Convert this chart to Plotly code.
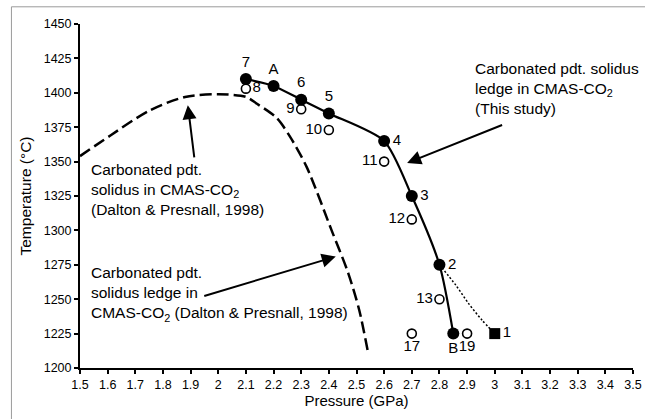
import plotly.graph_objects as go

# ---------------- data ----------------
# Filled circles: carbonated pdt. solidus ledge (this study)
solid_labels = ["7", "A", "6", "5", "4", "3", "2", "B"]
solid_p = [2.1, 2.2, 2.3, 2.4, 2.6, 2.7, 2.8, 2.85]
solid_t = [1410, 1405, 1395, 1385, 1365, 1325, 1275, 1225]

# Open circles
open_labels = ["8", "9", "10", "11", "12", "13", "17", "19"]
open_p = [2.1, 2.3, 2.4, 2.6, 2.7, 2.8, 2.7, 2.9]
open_t = [1403, 1388, 1373, 1350, 1308, 1250, 1225, 1225]

# Filled square
square_labels = ["1"]
square_p = [3.0]
square_t = [1225]

# Dotted extension from 2 to 1
dotted_p = [2.8, 2.86, 2.905, 2.953, 3.0]
dotted_t = [1275, 1260, 1247, 1235, 1225]

# Dashed: carbonated pdt. solidus in CMAS-CO2 (Dalton & Presnall, 1998)
dalton_p = [1.5, 1.61, 1.75, 1.88, 2.0, 2.1, 2.14, 2.21, 2.26, 2.32, 2.41, 2.47, 2.51, 2.54]
dalton_t = [1354, 1369, 1387, 1397, 1399, 1397, 1392, 1382, 1368, 1346, 1300, 1269, 1242, 1213]

x_tickvals = [1.5, 1.6, 1.7, 1.8, 1.9, 2.0, 2.1, 2.2, 2.3, 2.4, 2.5, 2.6, 2.7,
              2.8, 2.9, 3.0, 3.1, 3.2, 3.3, 3.4, 3.5]
x_ticktext = ["1.5", "1.6", "1.7", "1.8", "1.9", "2", "2.1", "2.2", "2.3", "2.4", "2.5",
              "2.6", "2.7", "2.8", "2.9", "3", "3.1", "3.2", "3.3", "3.4", "3.5"]
y_tickvals = [1200, 1225, 1250, 1275, 1300, 1325, 1350, 1375, 1400, 1425, 1450]

FONT = "Arial, 'Liberation Sans', sans-serif"

fig = go.Figure()

fig.add_trace(go.Scatter(
    x=dalton_p, y=dalton_t, mode="lines",
    line=dict(color="black", width=2.5, dash="12px,5px", shape="spline", smoothing=0.8),
    hoverinfo="skip"))

fig.add_trace(go.Scatter(
    x=solid_p, y=solid_t, mode="lines",
    line=dict(color="black", width=2.2, shape="spline", smoothing=0.7),
    hoverinfo="skip"))

fig.add_trace(go.Scatter(
    x=dotted_p, y=dotted_t, mode="lines",
    line=dict(color="black", width=1.5, dash="2px,2px", shape="spline", smoothing=0.8),
    hoverinfo="skip"))

fig.add_trace(go.Scatter(
    x=open_p, y=open_t, mode="markers+text", text=open_labels,
    textposition=["middle right", "middle left", "middle left", "middle left",
                  "middle left", "middle left", "bottom center", "bottom center"],
    textfont=dict(family=FONT, size=15, color="black"),
    marker=dict(symbol="circle", size=9, color="white", line=dict(color="black", width=1.6))))

fig.add_trace(go.Scatter(
    x=solid_p, y=solid_t, mode="markers+text", text=solid_labels,
    textposition=["top center", "top center", "top center", "top center",
                  "middle right", "middle right", "middle right", "bottom center"],
    textfont=dict(family=FONT, size=15, color="black"),
    marker=dict(symbol="circle", size=12, color="black")))

fig.add_trace(go.Scatter(
    x=square_p, y=square_t, mode="markers+text", text=square_labels,
    textposition="middle right",
    textfont=dict(family=FONT, size=15, color="black"),
    marker=dict(symbol="square", size=11, color="black")))

annotations = [
    dict(x=1.532, y=1330, xref="x", yref="y", xanchor="left", yanchor="middle",
         align="left", showarrow=False,
         text="Carbonated pdt.<br>solidus in CMAS-CO<sub>2</sub><br>(Dalton &amp; Presnall, 1998)"),
    dict(x=1.532, y=1254, xref="x", yref="y", xanchor="left", yanchor="middle",
         align="left", showarrow=False,
         text="Carbonated pdt.<br>solidus ledge in<br>CMAS-CO<sub>2</sub> (Dalton &amp; Presnall, 1998)"),
    dict(x=2.92, y=1403, xref="x", yref="y", xanchor="left", yanchor="middle",
         align="left", showarrow=False,
         text="Carbonated pdt. solidus<br>ledge in CMAS-CO<sub>2</sub><br>(This study)"),
    # arrows
    dict(x=1.89, y=1391, ax=1.914, ay=1352, xref="x", yref="y", axref="x", ayref="y",
         text="", showarrow=True, arrowhead=2, arrowsize=1.4, arrowwidth=2, arrowcolor="black"),
    dict(x=2.425, y=1281, ax=1.944, ay=1252, xref="x", yref="y", axref="x", ayref="y",
         text="", showarrow=True, arrowhead=2, arrowsize=1.4, arrowwidth=2, arrowcolor="black"),
    dict(x=2.683, y=1349, ax=3.032, ay=1377, xref="x", yref="y", axref="x", ayref="y",
         text="", showarrow=True, arrowhead=2, arrowsize=1.4, arrowwidth=2, arrowcolor="black"),
]
for a in annotations:
    a["font"] = dict(family=FONT, size=15.5, color="black")

fig.update_layout(
    width=645, height=419,
    margin=dict(l=80, r=12, t=24, b=51, autoexpand=False),
    paper_bgcolor="white", plot_bgcolor="white",
    showlegend=False,
    font=dict(family=FONT, color="black"),
    annotations=annotations,
    shapes=[dict(type="rect", xref="paper", yref="paper",
                 x0=-0.124, y0=-0.2, x1=1.2, y1=1.05,
                 line=dict(color="#9a9a9a", width=1), fillcolor="rgba(0,0,0,0)", layer="above")],
)

fig.update_xaxes(
    range=[1.5, 3.5], tickvals=x_tickvals, ticktext=x_ticktext,
    showgrid=False, zeroline=False, automargin=False,
    showline=True, linecolor="black", linewidth=2,
    ticks="outside", ticklen=4, tickwidth=1.5, tickcolor="black",
    tickfont=dict(family=FONT, size=12.5, color="black"),
    title=dict(text="Pressure (GPa)", font=dict(family=FONT, size=15, color="black"), standoff=3),
)
fig.update_yaxes(
    range=[1200, 1450], tickvals=y_tickvals,
    showgrid=False, zeroline=False, automargin=False,
    showline=True, linecolor="black", linewidth=2,
    ticks="outside", ticklen=4, tickwidth=1.5, tickcolor="black",
    tickfont=dict(family=FONT, size=12.5, color="black"),
    title=dict(text="Temperature (°C)", font=dict(family=FONT, size=15.5, color="black"), standoff=8),
)

fig.write_html(
    "out.html",
    config={"displayModeBar": False},
    post_script="document.body.style.margin='0';document.body.style.overflow='hidden';",
)
